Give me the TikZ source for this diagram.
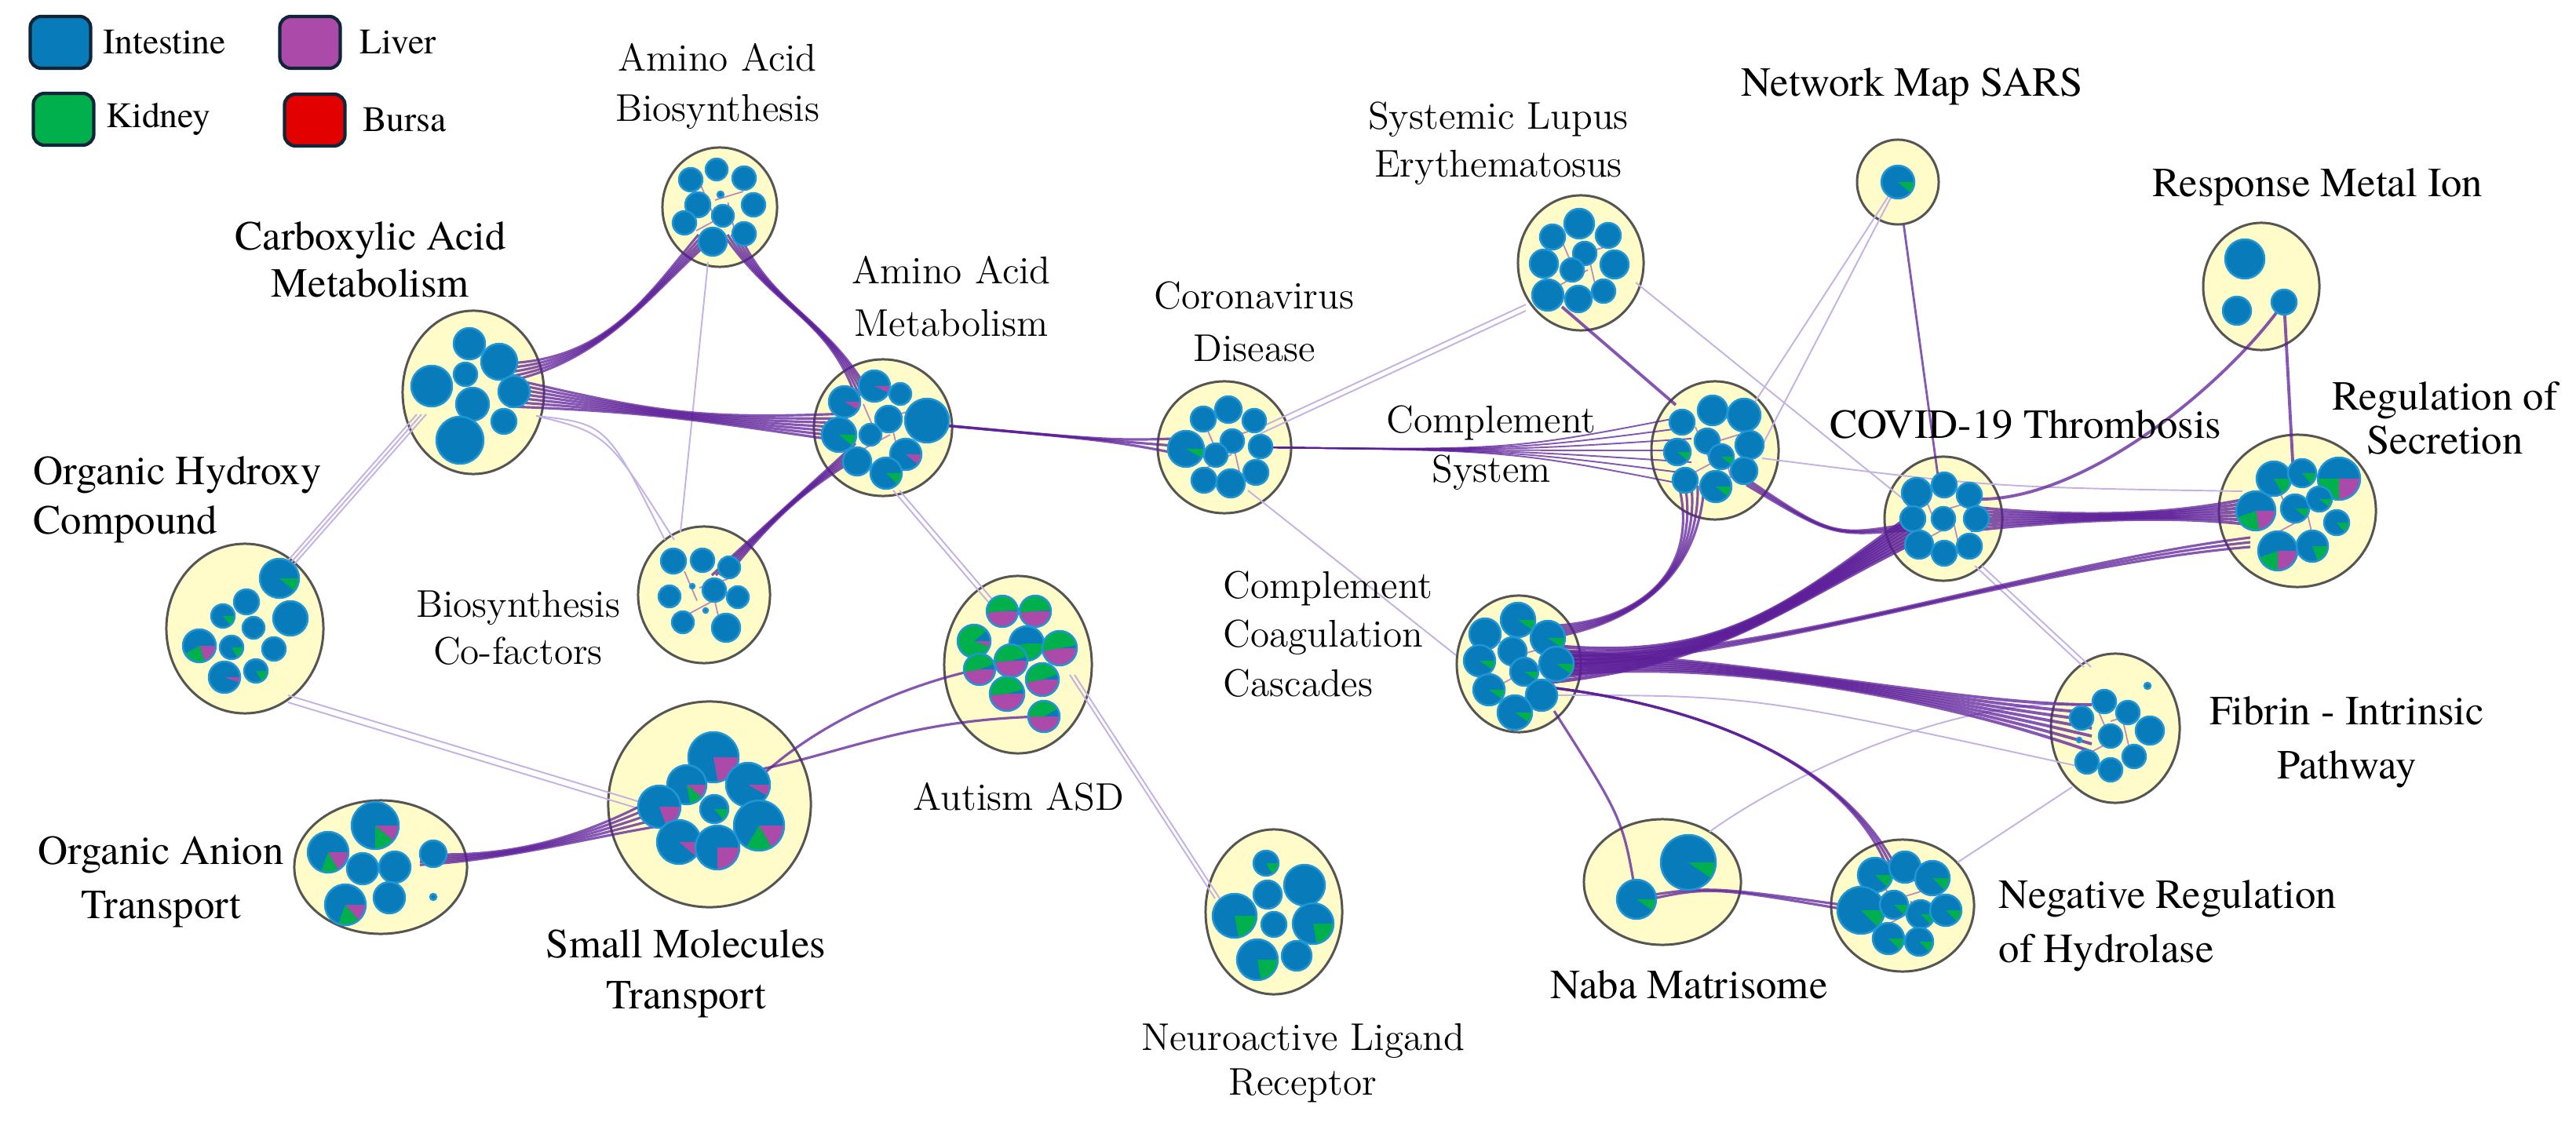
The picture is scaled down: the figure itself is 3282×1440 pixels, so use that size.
\documentclass[tikz,border=0pt]{standalone}
\usepackage{fontspec}
\newfontfamily\tmsfont{texgyretermes-regular.otf}
\usepackage{xcolor}
\usepackage{tikz}
\usetikzlibrary{shapes.geometric}
\usetikzlibrary{calc}
\usetikzlibrary{positioning}

\definecolor{intesblue}{RGB}{8,124,186}
\definecolor{ringblue}{RGB}{32,150,212}
\definecolor{kidgreen}{RGB}{0,176,76}
\definecolor{livpurple}{RGB}{172,74,170}
\definecolor{bursared}{RGB}{226,0,0}
\definecolor{clusterfill}{RGB}{255,252,202}
\definecolor{clusterline}{RGB}{85,85,85}
\definecolor{edgedark}{RGB}{92,30,152}
\definecolor{edgefaint}{RGB}{196,178,228}
\definecolor{legline}{RGB}{16,38,56}

% one tissue pie: x, y, radius, liver degrees, kidney degrees
\newcommand{\tis}[5]{%
  \fill[intesblue] (#1,#2) circle[radius=#3];
  \ifdim#4pt>0pt \fill[livpurple] (#1,#2) -- ++(0:#3) arc[start angle=0, end angle=#4, radius=#3] -- cycle;\fi
  \ifdim#5pt>0pt \fill[kidgreen] (#1,#2) -- ++(#4:#3) arc[start angle=#4, end angle=#4+#5, radius=#3] -- cycle;\fi
  \draw[ring] (#1,#2) circle[radius=#3];}

\begin{document}
\begin{tikzpicture}[
    x=0.01cm, y=-0.01cm,
    cluster/.style={ellipse, draw=clusterline, fill=clusterfill, line width=0.85pt, inner sep=0pt},
    ring/.style={draw=ringblue, line width=0.7pt},
    bundle/.style={draw=edgedark, line width=0.9pt, opacity=0.75},
    faint/.style={draw=edgefaint, line width=0.55pt},
    inner/.style={draw=livpurple!70!edgedark, line width=0.5pt, opacity=0.6},
    lmlab/.style={font=\fontsize{14}{18}\selectfont, align=center, inner sep=0pt},
    tmslab/.style={font=\tmsfont\fontsize{15}{18}\selectfont, align=center, inner sep=0pt},
    legbox/.style={draw=legline, line width=1.2pt, rounded corners=4pt, minimum width=0.77cm, minimum height=0.66cm, inner sep=0pt},
    legtxt/.style={font=\tmsfont\fontsize{13}{15}\selectfont, inner sep=0pt}
]
\useasboundingbox (0,0) rectangle (3282,1440);

% Clusters
\node[cluster, minimum width=1.46cm, minimum height=1.52cm] (aab) at (917,264) {};
\node[cluster, minimum width=1.80cm, minimum height=2.08cm] (cam) at (603,500) {};
\node[cluster, minimum width=1.76cm, minimum height=1.74cm] (aam) at (1125,545) {};
\node[cluster, minimum width=1.68cm, minimum height=1.74cm] (bcf) at (897,758) {};
\node[cluster, minimum width=2.00cm, minimum height=2.16cm] (ohc) at (312,801) {};
\node[cluster, minimum width=2.58cm, minimum height=2.62cm] (smt) at (904,1025) {};
\node[cluster, minimum width=2.20cm, minimum height=1.70cm] (oat) at (485,1105) {};
\node[cluster, minimum width=1.88cm, minimum height=2.26cm] (asd) at (1297,847) {};
\node[cluster, minimum width=1.74cm, minimum height=2.10cm] (nlr) at (1623,1162) {};
\node[cluster, minimum width=1.70cm, minimum height=1.68cm] (cvd) at (1560,570) {};
\node[cluster, minimum width=1.60cm, minimum height=1.72cm] (sle) at (2014,335) {};
\node[cluster, minimum width=1.62cm, minimum height=1.76cm] (cps) at (2185,574) {};
\node[cluster, minimum width=1.04cm, minimum height=1.08cm] (nms) at (2418,232) {};
\node[cluster, minimum width=1.48cm, minimum height=1.62cm] (rmi) at (2881,365) {};
\node[cluster, minimum width=1.50cm, minimum height=1.58cm] (cvt) at (2476,661) {};
\node[cluster, minimum width=2.00cm, minimum height=1.94cm] (ros) at (2927,651) {};
\node[cluster, minimum width=1.58cm, minimum height=1.74cm] (ccc) at (1935,846) {};
\node[cluster, minimum width=1.64cm, minimum height=1.90cm] (fip) at (2695,928) {};
\node[cluster, minimum width=2.00cm, minimum height=1.60cm] (nbm) at (2118,1124) {};
\node[cluster, minimum width=1.82cm, minimum height=1.68cm] (nrh) at (2424,1154) {};

% Links inside the clusters
\foreach \c in {aab,aam,bcf,cvd,sle,cps,cvt,ros,ccc,fip,nrh}
  \foreach \a/\b in {-30/30,-25/-30,30/-20,20/35}
    \draw[inner] ($(\c)+(\a,\b)$) -- ($(\c)+(0.3*\b,-0.3*\a)$);

% Faint links
\foreach \o in {-6,0,6}
  \draw[faint] ($(ohc)+(48+\o,-72)$) -- ($(cam)+(-66+\o,28)$);
\foreach \o in {0,9}
  \draw[faint] ($(ohc)+(55,85+\o)$) -- ($(smt)+(-62,5+\o)$);
\foreach \o in {0,12}
  \draw[faint] ($(cam)+(80,30)$) .. controls ($(cam)+(170,40+\o)$) .. ($(bcf)+(-50+\o,-70)$);
\draw[faint] ($(aab)+(-15,70)$) -- ($(bcf)+(-30,-80)$);
\foreach \o in {0,8}
  \draw[faint] ($(aam)+(13+\o,80)$) -- ($(asd)+(-38+\o,-80)$);
\foreach \o in {0,6}
  \draw[faint] ($(asd)+(66+\o,13)$) -- ($(nlr)+(-75+\o,-17)$);
\foreach \o in {0,8}
  \draw[faint] ($(cvd)+(45,-25+\o)$) -- ($(sle)+(-70,53+\o)$);
\draw[faint] ($(cvd)+(30,55)$) -- ($(ccc)+(-80,-11)$);
\draw[faint] ($(nms)+(-12,18)$) -- ($(cps)+(40,-45)$);
\draw[faint] ($(nms)+(-8,18)$) -- ($(cps)+(62,-10)$);
\draw[faint] ($(sle)+(70,25)$) -- ($(cvt)+(-45,-20)$);
\draw[faint] ($(cps)+(60,10)$) .. controls ($(cvt)+(60,-40)$) .. ($(ros)+(-70,-25)$);
\foreach \o in {0,9}
  \draw[faint] ($(cvt)+(40+\o,60)$) -- ($(fip)+(-40+\o,-78)$);
\draw[faint] ($(fip)+(-45,-30)$) .. controls ($(fip)+(-210,-40)$) and ($(nbm)+(150,-130)$) .. ($(nbm)+(60,-64)$);
\draw[faint] ($(fip)+(-55,75)$) -- ($(nrh)+(70,-55)$);
\draw[faint] ($(ccc)+(40,40)$) .. controls ($(ccc)+(300,40)$) .. ($(fip)+(-40,50)$);

% Bundled links
\foreach \o in {-12,-6,0,6,12}
  \draw[bundle] ($(cam)+(40,\o-25)$) .. controls ($(cam)+(170,-40)$) and ($(aab)+(-90,110)$) .. ($(aab)+(\o-15,35)$);
\foreach \o in {-18,-12,-6,0,6,12,18}
  \draw[bundle] ($(cam)+(45,\o)$) .. controls ($(cam)+(230,25)$) and ($(aam)+(-240,-10)$) .. ($(aam)+(-45,\o)$);
\foreach \o in {-10,-5,0,5,10}
  \draw[bundle] ($(aab)+(\o+15,35)$) .. controls ($(aab)+(70,130)$) and ($(aam)+(-70,-140)$) .. ($(aam)+(\o-25,-40)$);
\foreach \o in {-10,-5,0,5,10}
  \draw[bundle] ($(bcf)+(\o+20,-25)$) .. controls ($(bcf)+(90,-100)$) and ($(aam)+(-100,80)$) .. ($(aam)+(-35,\o+30)$);
\foreach \o in {-12,0,12}
  \draw[bundle] ($(aam)+(55,-5)$) .. controls ($(cvd)+(-140,-8)$) .. ($(cvd)+(-40,\o)$);
\foreach \o in {-45,-30,-15,0,15,30,45}
  \draw[bundle, line width=0.55pt] ($(cvd)+(45,0)$) .. controls ($(cps)+(-260,0)$) .. ($(cps)+(-30,\o)$);
\draw[bundle, line width=1.1pt] ($(sle)+(-24,56)$) -- ($(cps)+(-50,-58)$);
\foreach \o in {-8,-4,0,4,8}
  \draw[bundle] ($(ccc)+(30,\o-40)$) .. controls ($(ccc)+(160,-50)$) and ($(cps)+(-20,150)$) .. ($(cps)+(2*\o-30,45)$);
\foreach \o in {-24,-18,...,24}
  \draw[bundle, line width=1.3pt, opacity=0.8] ($(ccc)+(35,\o)$) .. controls ($(ccc)+(260,0)$) and ($(cvt)+(-200,110)$) .. ($(cvt)+(-35,0.8*\o+10)$);
\foreach \o in {-6,0,6}
  \draw[bundle] ($(ccc)+(40,\o-5)$) .. controls ($(ccc)+(300,0)$) and ($(ros)+(-350,70)$) .. ($(ros)+(-60,\o+40)$);
\foreach \o in {-30,-20,...,30}
  \draw[bundle, line width=1.1pt] ($(ccc)+(40,0.5*\o)$) .. controls ($(ccc)+(280,-10)$) and ($(fip)+(-200,-30)$) .. ($(fip)+(-30,\o)$);
\foreach \o in {-6,0,6}
  \draw[bundle] ($(ccc)+(40,30)$) .. controls ($(ccc)+(280,60)$) and ($(nrh)+(-60,-160)$) .. ($(nrh)+(\o-10,-40)$);
\draw[bundle] ($(ccc)+(45,60)$) .. controls ($(nbm)+(-50,-80)$) .. ($(nbm)+(-33,22)$);
\foreach \o in {-3,3}
  \draw[bundle] ($(nbm)+(-30,22+\o)$) .. controls ($(nbm)+(60,5)$) .. ($(nrh)+(-50,\o+6)$);
\foreach \o in {-15,-10,...,15}
  \draw[bundle, line width=1.1pt] ($(cvt)+(35,\o)$) .. controls ($(cvt)+(180,0)$) and ($(ros)+(-150,5)$) .. ($(ros)+(-45,1.3*\o)$);
\draw[bundle, line width=1.1pt] ($(cvt)+(40,-25)$) .. controls ($(cvt)+(180,-20)$) and ($(rmi)+(-40,120)$) .. ($(rmi)+(29,20)$);
\draw[bundle, line width=1.1pt] ($(rmi)+(29,20)$) -- ($(ros)+(-5,-45)$);
\draw[bundle, line width=0.8pt] (nms) -- ($(cvt)+(-5,-40)$);
\foreach \o in {-4,0,4}
  \draw[bundle] ($(cps)+(40,40+\o)$) .. controls ($(cps)+(150,110)$) .. ($(cvt)+(-40,\o+10)$);
\foreach \o in {-12,-6,0,6,12}
  \draw[bundle] ($(oat)+(50,0.6*\o-10)$) .. controls ($(oat)+(170,-10)$) and ($(smt)+(-150,40)$) .. ($(smt)+(-40,2*\o)$);
\draw[bundle] ($(smt)+(40,-10)$) .. controls ($(smt)+(130,-110)$) and ($(asd)+(-120,20)$) .. ($(asd)+(-50,6)$);
\draw[bundle] ($(smt)+(40,-40)$) .. controls ($(smt)+(160,-60)$) and ($(asd)+(-150,70)$) .. ($(asd)+(33,66)$);

% Tissue pies inside the clusters
\begin{scope}[shift={(aab)}]
  \foreach \dx/\dy/\rr/\lv/\kv in {-37/-35/15/0/0, -4/-48/14/0/0, 31/-37/15/0/0, -28/-3/16/0/0, 43/-3/15/0/0, 4/11/14/0/0, -45/20/15/0/0, -9/44/18/0/0, 31/34/15/0/0, 1/-16/4/0/0} {\tis{\dx}{\dy}{\rr}{\lv}{\kv}}
\end{scope}
\begin{scope}[shift={(cam)}]
  \foreach \dx/\dy/\rr/\lv/\kv in {-5/-62/20/0/0, 33/-39/23/0/0, -53/-8/26/0/0, -10/-23/15/0/0, -1/15/21/0/0, 52/-1/20/0/0, -17/61/30/0/0, 39/37/16/0/0} {\tis{\dx}{\dy}{\rr}{\lv}{\kv}}
\end{scope}
\begin{scope}[shift={(aam)}]
  \foreach \dx/\dy/\rr/\lv/\kv in {-11/-53/20/25/0, -49/-33/20/30/0, 22/-43/14/0/0, 56/-9/28/0/0, 7/-11/17/0/0, -56/9/22/0/40, -16/9/14/0/0, 29/34/20/40/0, -33/43/18/0/0, 4/58/20/0/45} {\tis{\dx}{\dy}{\rr}{\lv}{\kv}}
\end{scope}
\begin{scope}[shift={(bcf)}]
  \foreach \dx/\dy/\rr/\lv/\kv in {-39/-43/16/0/0, -2/-44/15/0/0, 32/-35/14/0/0, -44/2/14/0/0, 13/-6/15/0/0, 43/3/14/0/0, -27/35/14/0/0, 28/42/18/0/0, -15/-11/3/0/0, 2/20/3/0/0} {\tis{\dx}{\dy}{\rr}{\lv}{\kv}}
\end{scope}
\begin{scope}[shift={(ohc)}]
  \foreach \dx/\dy/\rr/\lv/\kv in {44/-64/25/0/40, 58/-13/22/0/0, 2/-34/16/0/0, -28/-16/15/0/50, 11/-1/14/0/0, -58/22/21/70/80, -17/24/15/0/60, 37/26/15/0/0, -26/62/20/20/0, 14/54/15/0/60} {\tis{\dx}{\dy}{\rr}{\lv}{\kv}}
\end{scope}
\begin{scope}[shift={(smt)}]
  \foreach \dx/\dy/\rr/\lv/\kv in {5/-60/32/80/0, 49/-25/28/30/0, -29/-25/25/40/40, -64/3/27/70/0, 6/6/18/0/50, 63/27/32/60/60, -39/48/28/40/0, 10/55/28/90/0} {\tis{\dx}{\dy}{\rr}{\lv}{\kv}}
\end{scope}
\begin{scope}[shift={(oat)}]
  \foreach \dx/\dy/\rr/\lv/\kv in {-7/-53/30/40/50, -67/-19/26/60/50, -23/2/20/0/0, 18/0/20/0/0, 67/-17/17/0/0, -45/48/26/50/60, 11/39/20/0/0, 67/38/4/0/0} {\tis{\dx}{\dy}{\rr}{\lv}{\kv}}
\end{scope}
\begin{scope}[shift={(asd)}]
  \foreach \dx/\dy/\rr/\lv/\kv in {-20/-68/20/175/180, 22/-68/20/175/180, -56/-30/21/20/300, 11/-27/22/0/170, 53/-21/22/170/180, -49/6/20/170/170, -9/-5/21/175/170, 31/19/21/170/170, -14/37/22/175/170, 33/66/20/180/150} {\tis{\dx}{\dy}{\rr}{\lv}{\kv}}
\end{scope}
\begin{scope}[shift={(nlr)}]
  \foreach \dx/\dy/\rr/\lv/\kv in {-10/-62/16/0/60, -8/-22/18/0/0, 39/-34/26/0/0, -50/5/28/0/80, 0/16/16/0/0, 50/15/26/0/80, -21/61/26/0/80, 29/56/19/0/0} {\tis{\dx}{\dy}{\rr}{\lv}{\kv}}
\end{scope}
\begin{scope}[shift={(cvd)}]
  \foreach \dx/\dy/\rr/\lv/\kv in {-27/-36/16/0/0, 5/-48/17/0/0, 38/-34/15/0/0, -49/2/23/0/30, 10/-8/15/0/0, -11/10/15/0/0, 46/-1/15/0/0, -26/42/16/0/0, 8/46/18/0/0, 40/32/16/0/0} {\tis{\dx}{\dy}{\rr}{\lv}{\kv}}
\end{scope}
\begin{scope}[shift={(sle)}]
  \foreach \dx/\dy/\rr/\lv/\kv in {-36/-33/16/0/0, -2/-50/19/0/0, 35/-35/16/0/0, -47/1/18/0/0, 5/-12/15/0/0, -11/9/15/0/0, 43/2/18/0/0, -42/41/20/0/0, -3/46/17/0/0, 29/36/15/0/0} {\tis{\dx}{\dy}{\rr}{\lv}{\kv}}
\end{scope}
\begin{scope}[shift={(cps)}]
  \foreach \dx/\dy/\rr/\lv/\kv in {-3/-51/19/0/0, 37/-45/21/0/0, -42/-36/16/0/0, -10/-12/16/0/0, 44/-7/18/0/0, -48/2/17/0/40, 8/8/16/0/40, 37/26/17/0/0, -38/38/16/0/0, 1/46/20/0/40} {\tis{\dx}{\dy}{\rr}{\lv}{\kv}}
\end{scope}
\begin{scope}[shift={(nms)}]
  \tis{0}{0}{21}{0}{40}
\end{scope}
\begin{scope}[shift={(rmi)}]
  \foreach \dx/\dy/\rr/\lv/\kv in {-21/-35/25/0/0, -31/31/18/0/0, 29/20/16/0/0} {\tis{\dx}{\dy}{\rr}{\lv}{\kv}}
\end{scope}
\begin{scope}[shift={(cvt)}]
  \foreach \dx/\dy/\rr/\lv/\kv in {-34/-33/19/0/0, 1/-43/16/0/0, 33/-30/16/0/0, -39/0/16/0/0, 0/0/15/0/0, 42/0/16/0/0, -31/33/18/0/0, 1/44/16/0/0, 33/35/16/0/0} {\tis{\dx}{\dy}{\rr}{\lv}{\kv}}
\end{scope}
\begin{scope}[shift={(ros)}]
  \foreach \dx/\dy/\rr/\lv/\kv in {-30/-41/22/0/60, 6/-48/18/0/50, 53/-41/27/90/90, -53/0/25/80/80, -3/-3/18/0/40, 28/-15/16/0/40, 50/15/16/0/50, -25/51/25/90/70, 19/45/20/0/70} {\tis{\dx}{\dy}{\rr}{\lv}{\kv}}
\end{scope}
\begin{scope}[shift={(ccc)}]
  \foreach \dx/\dy/\rr/\lv/\kv in {-1/-56/22/0/35, -43/-38/20/0/0, 37/-33/22/0/35, -50/-4/20/0/35, -8/-16/18/0/0, 48/0/22/0/35, 7/10/18/0/35, -38/33/20/0/35, 29/40/20/0/0, -5/62/22/0/35} {\tis{\dx}{\dy}{\rr}{\lv}{\kv}}
\end{scope}
\begin{scope}[shift={(fip)}]
  \foreach \dx/\dy/\rr/\lv/\kv in {-14/-34/15/0/0, 16/-20/15/0/0, -43/-13/15/0/0, 44/3/18/0/0, -6/10/15/0/0, -36/43/15/0/0, 24/36/15/0/0, -6/53/15/0/0, 41/-54/4/0/0, -46/15/3/0/0} {\tis{\dx}{\dy}{\rr}{\lv}{\kv}}
\end{scope}
\begin{scope}[shift={(nbm)}]
  \foreach \dx/\dy/\rr/\lv/\kv in {33/-25/35/0/35, -33/22/25/0/35} {\tis{\dx}{\dy}{\rr}{\lv}{\kv}}
\end{scope}
\begin{scope}[shift={(nrh)}]
  \foreach \dx/\dy/\rr/\lv/\kv in {-35/-39/22/0/45, 3/-49/20/0/0, 38/-35/22/0/45, -53/6/30/0/45, -11/-1/18/0/45, 23/11/18/0/45, 55/6/20/0/45, -18/42/20/0/45, 21/46/18/0/45} {\tis{\dx}{\dy}{\rr}{\lv}{\kv}}
\end{scope}

% Cluster labels
\node[lmlab] (aablab) at (914,110) {Amino Acid\\Biosynthesis};
\node[tmslab, font=\tmsfont\fontsize{15}{17}\selectfont] (camlab) at (472,331) {Carboxylic Acid\\Metabolism};
\node[lmlab, font=\fontsize{14}{19}\selectfont] (aamlab) at (1212,378) {Amino Acid\\Metabolism};
\node[lmlab, font=\fontsize{14}{17}\selectfont] (bcflab) at (660,800) {Biosynthesis\\Co-factors};
\node[tmslab, align=left, anchor=west] (ohclab) at (42,637) {Organic Hydroxy\\Compound};
\node[tmslab, font=\tmsfont\fontsize{15}{19.6}\selectfont] (oatlab) at (205,1124) {Organic Anion\\Transport};
\node[tmslab, font=\tmsfont\fontsize{15}{18.5}\selectfont] (smtlab) at (874,1241) {Small Molecules\\Transport};
\node[lmlab] (asdlab) at (1298,1015) {Autism ASD};
\node[lmlab, font=\fontsize{14}{16.2}\selectfont] (nlrlab) at (1660,1355) {Neuroactive Ligand\\Receptor};
\node[lmlab, font=\fontsize{14}{19}\selectfont] (cvdlab) at (1598,410) {Coronavirus\\Disease};
\node[lmlab, font=\fontsize{14}{17.4}\selectfont] (slelab) at (1909,183) {Systemic Lupus\\Erythematosus};
\node[lmlab] (cpslab) at (1900,571) {Complement\\System};
\node[lmlab, font=\fontsize{14}{17.7}\selectfont, align=left, anchor=west] (ccclab) at (1558,808) {Complement\\Coagulation\\Cascades};
\node[tmslab] (nmslab) at (2436,110) {Network Map SARS};
\node[tmslab] (rmilab) at (2953,238) {Response Metal Ion};
\node[tmslab] (cvtlab) at (2581,541) {COVID-19 Thrombosis};
\node[tmslab, font=\tmsfont\fontsize{15}{16}\selectfont] (roslab) at (3115,533) {Regulation of\\Secretion};
\node[tmslab, font=\tmsfont\fontsize{15}{19.6}\selectfont] (fiplab) at (2990,946) {Fibrin - Intrinsic\\Pathway};
\node[tmslab] (nbmlab) at (2152,1255) {Naba Matrisome};
\node[tmslab, font=\tmsfont\fontsize{15}{19.5}\selectfont, align=left, anchor=west] (nrhlab) at (2546,1180) {Negative Regulation\\of Hydrolase};

% Legend
\node[legbox, fill=intesblue] (legint) at (77,54) {};
\node[legtxt, right=0.13cm of legint] (leginttxt) {Intestine};
\node[legbox, fill=livpurple] (legliv) at (395,54) {};
\node[legtxt, right=0.22cm of legliv] (leglivtxt) {Liver};
\node[legbox, fill=kidgreen] (legkid) at (81,152) {};
\node[legtxt, right=0.13cm of legkid] (legkidtxt) {Kidney};
\node[legbox, fill=bursared] (legbur) at (401,153) {};
\node[legtxt, right=0.2cm of legbur] (legburtxt) {Bursa};

\end{tikzpicture}
\end{document}
